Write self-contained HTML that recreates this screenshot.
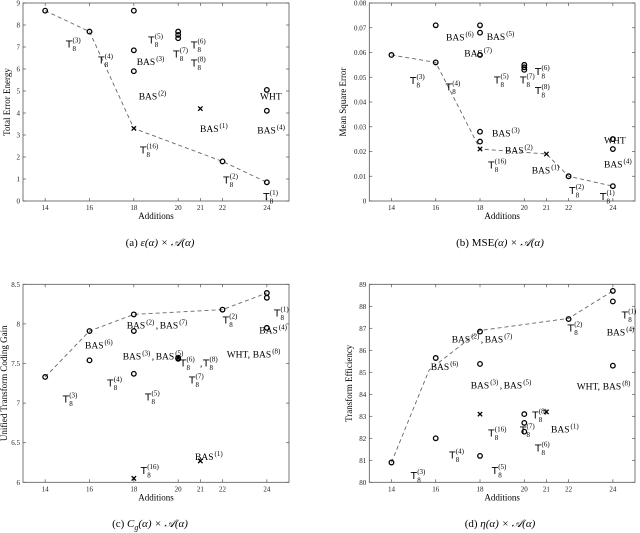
<!DOCTYPE html>
<html><head><meta charset="utf-8"><style>
html,body{margin:0;padding:0;background:#fff;}
svg{display:block;font-family:"Liberation Serif",serif;}
</style></head><body>
<svg id="fig" width="640" height="533" viewBox="0 0 640 533" xmlns="http://www.w3.org/2000/svg"></svg>
<script>
const xTicks=[14,16,18,20,21,22,24];
// Panel a
const aCircX=[14,16,18,18,18,20,20,20,22,24,24,24];
const aCircY=[8.65,7.7,8.65,6.85,5.9,7.7,7.55,7.4,1.8,5.05,4.1,0.85];
const aCrossX=[18,21];
const aCrossY=[3.3,4.2];
const aLineX=[14,16,18,22,24];
const aLineY=[8.65,7.7,3.3,1.8,0.85];
const aYTicks=[0,1,2,3,4,5,6,7,8,9];
// Panel b
const bCircX=[14,16,16,18,18,18,18,18,20,20,20,22,24,24,24];
const bCircY=[0.059,0.071,0.056,0.071,0.068,0.059,0.028,0.024,0.055,0.054,0.053,0.010,0.025,0.021,0.006];
const bCrossX=[18,21];
const bCrossY=[0.021,0.019];
const bLineX=[14,16,18,21,22,24];
const bLineY=[0.059,0.056,0.021,0.019,0.010,0.006];
const bYTicks=[0,0.01,0.02,0.03,0.04,0.05,0.06,0.07,0.08];
const bYLabels=["0","0.01","0.02","0.03","0.04","0.05","0.06","0.07","0.08"];
// Panel c
const cCircX=[14,16,16,18,18,18,20,20,22,24,24,24];
const cCircY=[7.33,7.91,7.54,8.12,7.91,7.37,7.57,7.56,8.18,8.39,8.33,7.95];
const cCrossX=[18,21,20];
const cCrossY=[6.05,6.27,7.57];
const cLineX=[14,16,18,22,24];
const cLineY=[7.33,7.91,8.12,8.18,8.39];
const cYTicks=[6,6.5,7,7.5,8,8.5];
// Panel d
const dCircX=[14,16,16,18,18,18,20,20,20,22,24,24,24];
const dCircY=[80.9,85.65,82.0,86.85,85.38,81.2,83.1,82.7,82.3,87.42,88.7,88.22,85.3];
const dCrossX=[18,21];
const dCrossY=[83.1,83.2];
const dLineX=[14,15.7,18,22,24];
const dLineY=[80.9,85.1,86.9,87.45,88.7];
const dYTicks=[80,81,82,83,84,85,86,87,88,89];

const panels=[
 {id:'a',L:23,R:289,T:3,B:201,y0:0,y1:9,cx:aCircX,cy:aCircY,xx:aCrossX,xy:aCrossY,lx:aLineX,ly:aLineY,yt:aYTicks,yl:aYTicks.map(String),title:'Total Error Energy',tx:10,cap:['(a) ','ε','(α) × 𝒜(α)'],capX:160,capY:246,
  labels:[['T','3',66,47.7],['T','4',98.3,63.3],['B','3',136.7,65],['T','5',148.3,43.3],['T','7',173.3,57.3],['T','6',191,48.3],['T','8',191,66.7],['B','2',138.7,99.3],['B','1',200,132],['W','',260,99.3],['B','4',257.3,133.3],['T','16',140,153.3],['T','2',223.3,183.3],['T','1',263.3,200]]},
 {id:'b',L:369.3,R:635,T:3,B:201,y0:0,y1:0.08,cx:bCircX,cy:bCircY,xx:bCrossX,xy:bCrossY,lx:bLineX,ly:bLineY,yt:bYTicks,yl:bYLabels,title:'Mean Square Error',tx:346,cap:['(b) MSE','','(α) × 𝒜(α)'],capX:500,capY:246,
  labels:[['B','6',446,40.7],['B','5',486.7,40],['B','7',464.3,56.7],['T','3',410,84],['T','4',445.7,90.7],['T','5',494,83.3],['T','7',520,83.3],['T','6',535,75],['T','8',535,94],['B','3',492,136.7],['B','2',505,153.3],['T','16',488.3,168.3],['B','1',531.7,173.3],['W','',604,143.3],['B','4',604,167.7],['T','2',569.3,194],['T','1',600,200]]},
 {id:'c',L:23,R:289,T:284.3,B:482.3,y0:6,y1:8.5,cx:cCircX,cy:cCircY,xx:cCrossX,xy:cCrossY,lx:cLineX,ly:cLineY,yt:cYTicks,yl:cYTicks.map(String),title:'Unified Transform Coding Gain',tx:7,cap:null,capX:150,capY:527,
  labels:[['BB','2,7',126.7,328.3],['B','6',85,348.3],['BB','3,5',122.7,359.3],['T','6',180,366.7],['CT','8',200,366.7],['T','7',189,383.3],['T','4',107.3,386.7],['T','5',145,400.7],['T','3',62.7,402.7],['T','2',222.7,323.3],['T','1',274,316.7],['B','4',259.3,333.3],['WB','8',226.7,357.3],['B','1',195,460],['T','16',140.7,474]]},
 {id:'d',L:369.3,R:635,T:284.3,B:482.3,y0:80,y1:89,cx:dCircX,cy:dCircY,xx:dCrossX,xy:dCrossY,lx:dLineX,ly:dLineY,yt:dYTicks,yl:dYTicks.map(String),title:'Transform Efficiency',tx:352,cap:['(d) ','η','(α) × 𝒜(α)'],capX:500,capY:527,
  labels:[['BB','2,7',451.7,342.7],['B','6',430.7,370],['BB','3,5',470.7,388.3],['T','8',532.3,418.3],['T','16',488.3,436.7],['T','7',520,433.3],['B','1',551,432.7],['T','6',535,451.7],['T','4',449.3,458.3],['T','3',410.7,479],['T','5',491.7,474],['T','2',567.7,331.7],['T','1',621.7,318.3],['B','4',606.7,335.7],['WB','8',576.7,389.3]]}
];
const NS='http://www.w3.org/2000/svg';
const svg=document.getElementById('fig');
function mk(tag,attrs,parent,txt){const e=document.createElementNS(NS,tag);for(const k in attrs)e.setAttribute(k,attrs[k]);if(txt!==undefined)e.textContent=txt;(parent||svg).appendChild(e);return e;}
function tlabel(g,x,y,n){
 const t=mk('text',{x:x,y:y,'font-family':'"DejaVu Sans","Liberation Sans",sans-serif','font-size':10},g,'T');
 
 mk('text',{x:x+6.5,y:y+3.5,'font-size':7},g,'8');
 mk('text',{x:x+6.5,y:y-5,'font-size':7},g,'('+n+')');
}
function blabel(g,x,y,n){
 const t=mk('text',{x:x,y:y,'font-size':9.5},g,'BAS');
 
 mk('text',{x:x+19.5,y:y-4,'font-size':7},g,'('+n+')');
}
panels.forEach(p=>{
 const g=mk('g',{});
 
 
 const sx=v=>p.L+(v-13)/12*(p.R-p.L);
 const sy=v=>p.B-(v-p.y0)/(p.y1-p.y0)*(p.B-p.T);
 const box=mk('rect',{x:p.L,y:p.T,width:p.R-p.L,height:p.B-p.T,fill:'none',stroke:'#555','stroke-width':0.8},g);
 
 xTicks.forEach(t=>{
  const x=sx(t);
  mk('line',{x1:x,x2:x,y1:p.B,y2:p.B-3,stroke:'#555','stroke-width':0.7},g);
  mk('line',{x1:x,x2:x,y1:p.T,y2:p.T+3,stroke:'#555','stroke-width':0.7},g);
  const tl=mk('text',{x:x,y:p.B+9,'font-size':7,'text-anchor':'middle',fill:'#222'},g,String(t));
  
 });
 p.yt.forEach((t,i)=>{
  const y=sy(t);
  mk('line',{x1:p.L,x2:p.L+3,y1:y,y2:y,stroke:'#555','stroke-width':0.7},g);
  mk('line',{x1:p.R,x2:p.R-3,y1:y,y2:y,stroke:'#555','stroke-width':0.7},g);
  const tl=mk('text',{x:p.L-3,y:y+2.5,'font-size':7,'text-anchor':'end',fill:'#222'},g,p.yl[i]);
  
 });
 const xt=mk('text',{x:(p.L+p.R)/2,y:p.B+18,'font-size':9,'text-anchor':'middle'},g,'Additions');
 
 const yc=(p.T+p.B)/2;
 const yt=mk('text',{x:p.tx,y:yc,'font-size':9,'text-anchor':'middle',transform:'rotate(-90 '+p.tx+' '+yc+')'},g,p.title);
 
 const cap=mk('text',{x:p.capX,y:p.capY,'font-size':11,'text-anchor':'middle'},g);
 
 if(p.cap){
  mk('tspan',{},cap,p.cap[0]);
  if(p.cap[1])mk('tspan',{'font-style':'italic'},cap,p.cap[1]);
  mk('tspan',{'font-style':'italic'},cap,p.cap[2]);
 } else {
  mk('tspan',{},cap,'(c) ');
  mk('tspan',{'font-style':'italic'},cap,'C');
  mk('tspan',{'font-style':'italic',dy:3,'font-size':8},cap,'g');
  mk('tspan',{'font-style':'italic',dy:-3},cap,'(α) × 𝒜(α)');
 }
 const pts=p.lx.map((v,i)=>sx(v)+','+sy(p.ly[i])).join(' ');
 const pl=mk('polyline',{points:pts,fill:'none',stroke:'#666','stroke-width':0.9,'stroke-dasharray':'4,3'},g);
 
 p.cx.forEach((v,i)=>{
  const c=mk('circle',{cx:sx(v),cy:sy(p.cy[i]),r:2.3,fill:'none',stroke:'#000','stroke-width':1.3},g);
  
 });
 p.xx.forEach((v,i)=>{
  const x=sx(v),y=sy(p.xy[i]),s=2.2;
  const cr=mk('path',{d:`M${x-s},${y-s}L${x+s},${y+s}M${x-s},${y+s}L${x+s},${y-s}`,stroke:'#000','stroke-width':1.3},g);
  
 });
 p.labels.forEach(l=>{
  const [k,n,x,y]=l;
  if(k==='T')tlabel(g,x,y,n);
  else if(k==='B')blabel(g,x,y,n);
  else if(k==='W'){const t=mk('text',{x:x,y:y,'font-size':9.5},g,'WHT');}
  else if(k==='BB'){const [a,b]=n.split(',');blabel(g,x,y,a);mk('text',{x:x+29,y:y,'font-size':9.5},g,',');blabel(g,x+33,y,b);}
  else if(k==='CT'){mk('text',{x:x,y:y,'font-size':9.5},g,',');tlabel(g,x+3,y,n);}
  else if(k==='WB'){const t=mk('text',{x:x,y:y,'font-size':9.5},g,'WHT,');blabel(g,x+26,y,n);}
 });
});
</script>
</body></html>
